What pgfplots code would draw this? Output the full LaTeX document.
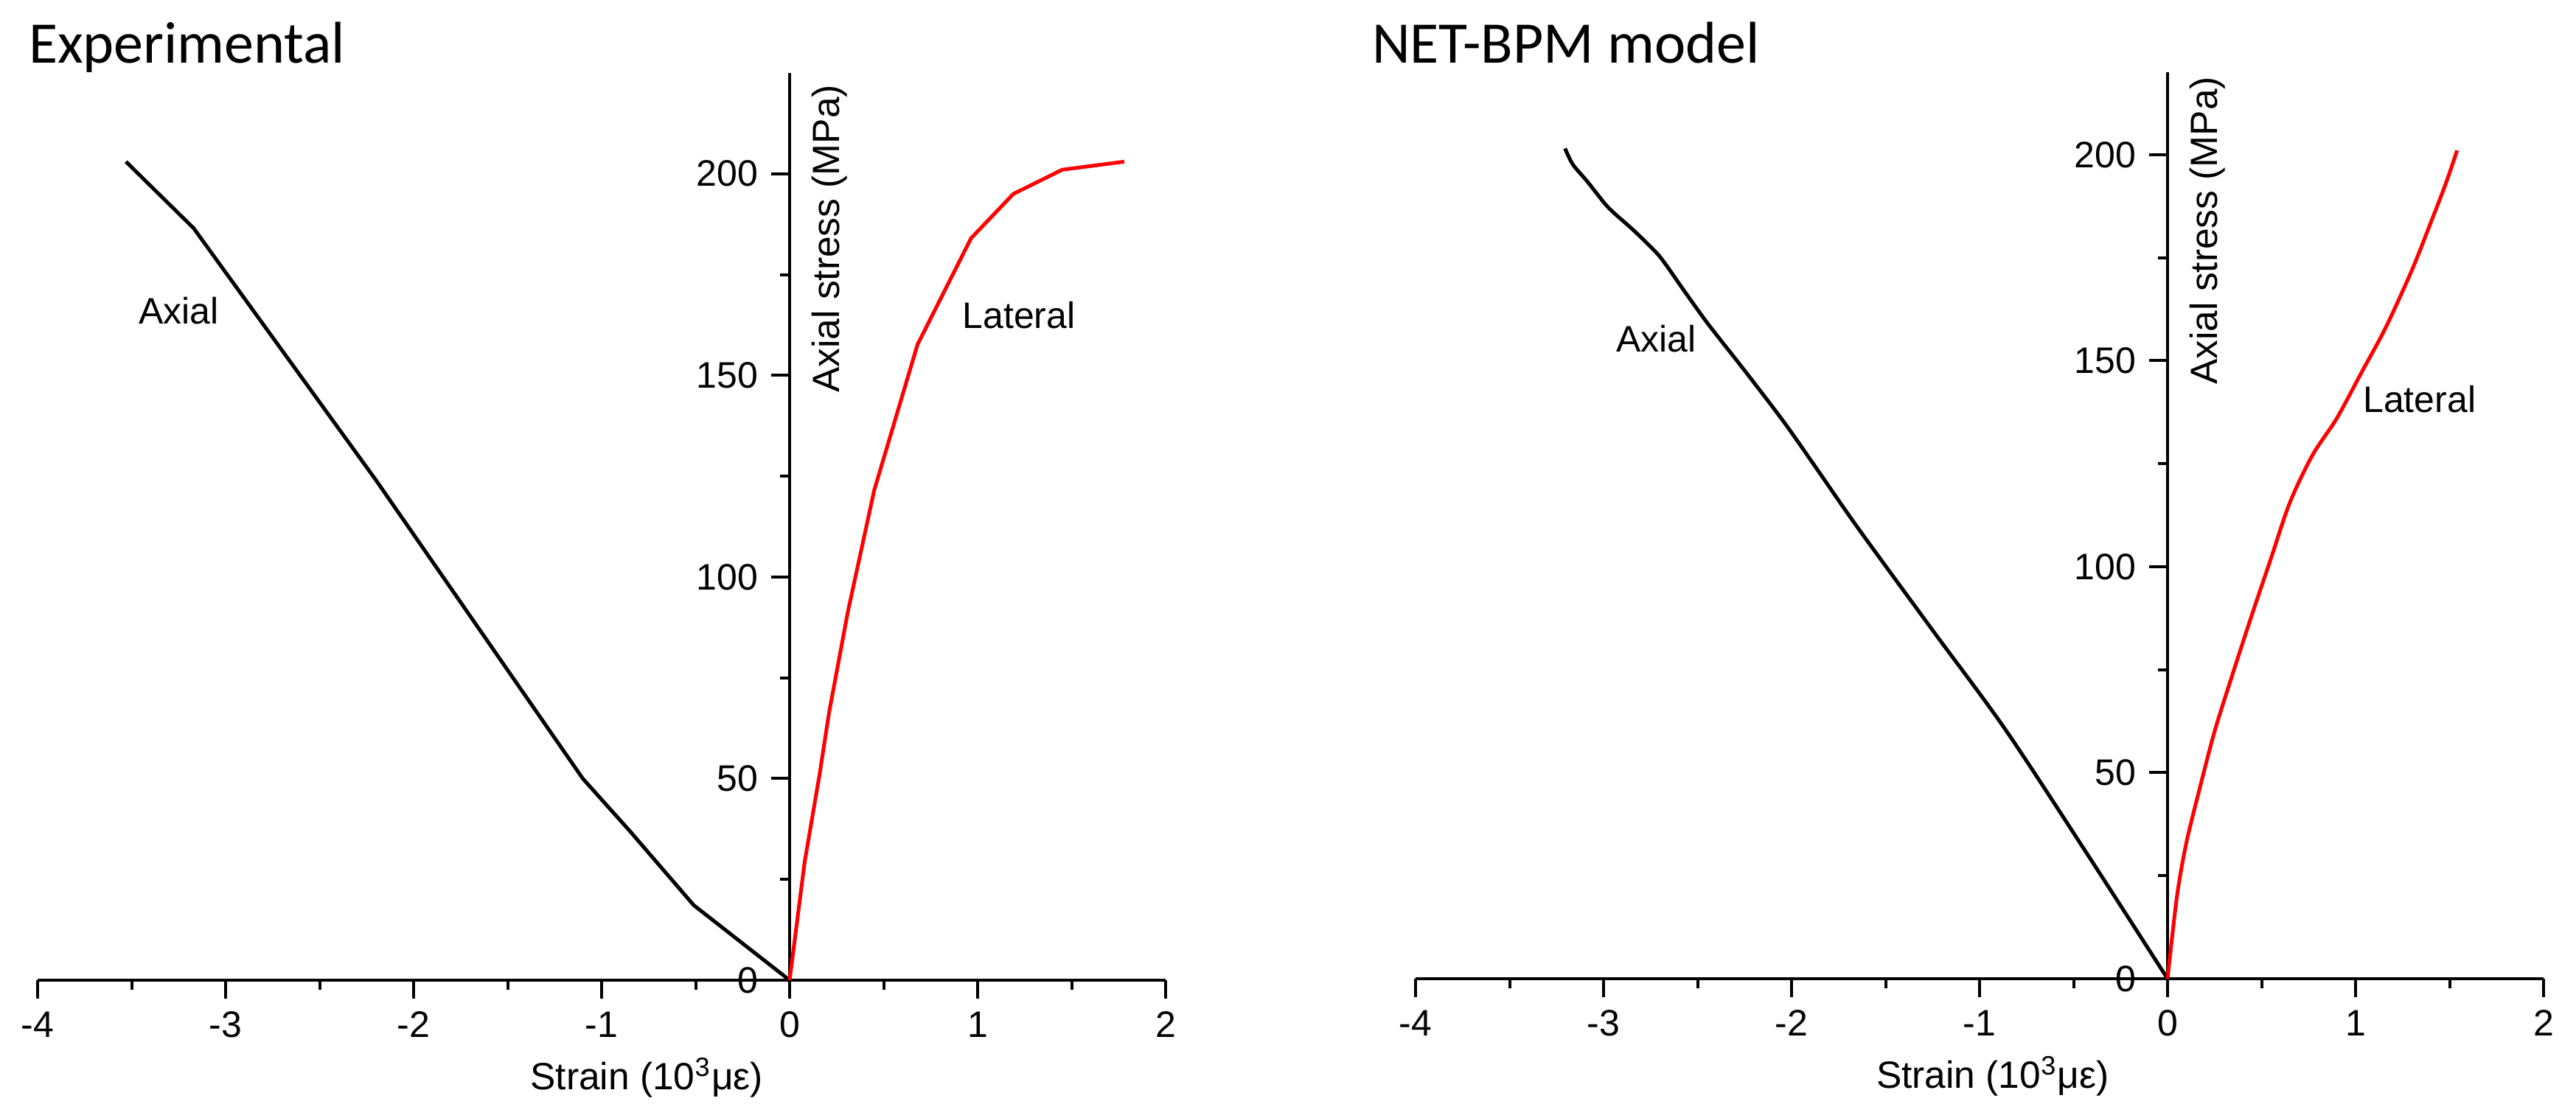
\documentclass[border=0pt]{standalone}
\usepackage{fontspec}
\setmainfont{Liberation Sans}
\newfontfamily\titlefont{Carlito}
\usepackage{pgfplots}
\pgfplotsset{compat=1.18}
\usetikzlibrary{calc}

\pgfplotsset{
  panel/.style={
    scale only axis, width=306pt,
    xmin=-4, xmax=2, ymin=0,
    axis x line=bottom, axis y line=middle,
    axis line style={-, line width=0.9pt, black},
    every inner x axis line/.append style={-},
    every inner y axis line/.append style={-},
    every outer x axis line/.append style={-},
    every outer y axis line/.append style={-},
    hide obscured x ticks=false, hide obscured y ticks=false,
    tick align=outside,
    major tick length=5pt, minor tick length=2.6pt,
    tick style={line width=0.8pt, black},
    xtick={-4,-3,-2,-1,0,1,2}, xticklabels={-4,-3,-2,-1,0,1,2},
    ytick={0,50,100,150,200}, yticklabels={0,50,100,150,200},
    minor x tick num=1, minor y tick num=1,
    tick label style={font=\fontsize{10}{12}\selectfont},
    clip=false,
  }
}

\begin{document}
\begin{tikzpicture}
\useasboundingbox (-10.2pt,-37.2pt) rectangle (688.6pt,266pt);

% ---------------- Experimental ----------------
\begin{axis}[panel, height=246.2pt, ymax=225, at={(0pt,0pt)}, anchor=south west]
\addplot[black, line width=1pt, line join=round] coordinates {
 (0,0) (-0.51,18.6) (-0.85,37) (-1.1,50) (-2.2,124) (-3.17,186.5) (-3.53,203)
};
\addplot[red, line width=1pt, line join=round] coordinates {
 (0,0) (0.08,29.3) (0.16,51.2) (0.21,66.4) (0.31,91.4) (0.45,121.5) (0.68,157.6)
 (0.965,184) (1.19,195) (1.45,201) (1.78,203)
};
\node[font=\fontsize{10}{12}\selectfont] at (axis cs:-3.25,166) {Axial};
\node[font=\fontsize{10}{12}\selectfont] at (axis cs:1.22,165) {Lateral};
\node[rotate=90, anchor=north east, inner sep=0pt, font=\fontsize{10.3}{12}\selectfont]
  at ($(axis cs:0,225)+(5.8pt,-3pt)$) {Axial stress (MPa)};
\node[font=\fontsize{10.3}{12}\selectfont] at ($(axis cs:-0.76,0)+(0pt,-26.4pt)$) {Strain (10\textsuperscript{3}με)};
\node[anchor=base west, inner sep=0pt, font=\titlefont\fontsize{16}{19}\selectfont]
  at ($(rel axis cs:0,1)+(-2.6pt,2.8pt)$) {Experimental};
\end{axis}

% ---------------- NET-BPM model ----------------
\begin{axis}[panel, height=246pt, ymax=220, at={(373.8pt,0.4pt)}, anchor=south west]
\addplot[black, line width=1pt, smooth] coordinates {
 (0,0) (-0.425,30.1) (-0.863,60.5) (-1.255,84.9) (-1.647,109.4) (-1.856,123.1)
 (-2.039,135) (-2.248,147.5) (-2.444,158.9) (-2.575,167.2) (-2.667,173.2)
 (-2.719,176.2) (-2.837,181.5) (-2.941,185.7) (-2.993,188.1) (-3.085,193.4)
 (-3.163,197.6) (-3.205,201.5)
};
\addplot[red, line width=1pt, smooth] coordinates {
 (0,0) (0.05,20) (0.1,33) (0.17,46) (0.25,60) (0.35,74.5) (0.45,88.5) (0.55,102)
 (0.65,115.5) (0.77,127) (0.9,136) (1.03,147) (1.16,158) (1.30,172) (1.40,183.5)
 (1.48,193) (1.54,201)
};
\node[font=\fontsize{10}{12}\selectfont] at (axis cs:-2.72,155.3) {Axial};
\node[font=\fontsize{10}{12}\selectfont] at (axis cs:1.34,140.6) {Lateral};
\node[rotate=90, anchor=north east, inner sep=0pt, font=\fontsize{10.3}{12}\selectfont]
  at ($(axis cs:0,220)+(5.8pt,-1pt)$) {Axial stress (MPa)};
\node[font=\fontsize{10.3}{12}\selectfont] at ($(axis cs:-0.93,0)+(0pt,-26.4pt)$) {Strain (10\textsuperscript{3}με)};
\node[anchor=base west, inner sep=0pt, font=\titlefont\fontsize{16}{19}\selectfont]
  at ($(rel axis cs:0,1)+(-12pt,2.6pt)$) {NET-BPM model};
\end{axis}
\end{tikzpicture}
\end{document}
